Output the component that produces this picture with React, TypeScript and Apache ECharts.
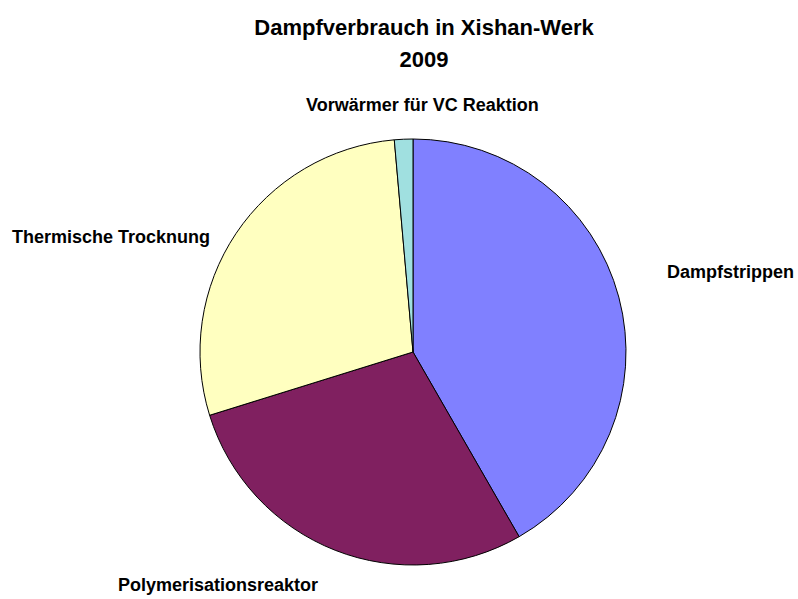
import React, { useEffect, useRef } from "react";
import * as echarts from "echarts";

const categories = ["Dampfstrippen", "Polymerisationsreaktor", "Thermische Trocknung", "Vorwärmer für VC Reaktion"];
const values = [41.7, 28.5, 28.4, 1.4];
const colors = ["#8080FF", "#802060", "#FFFFC0", "#A0E0E0"];
const titleLines = ["Dampfverbrauch in Xishan-Werk", "2009"];
const labelPos: [number, number][] = [
  [667, 272],
  [118, 585],
  [12, 237],
  [306, 105],
];

export default function App() {
  const ref = useRef<HTMLDivElement>(null);
  useEffect(() => {
    if (!ref.current) return;
    const chart = echarts.init(ref.current, undefined, { renderer: "svg" });
    chart.setOption({
      animation: false,
      backgroundColor: "#ffffff",
      title: {
        text: titleLines.join("\n"),
        left: 419,
        top: 6,
        textAlign: "center",
        textStyle: {
          fontFamily: "Liberation Sans, Arial, sans-serif",
          fontWeight: "bold",
          fontSize: 22,
          lineHeight: 32,
          color: "#000",
        },
      },
      series: [
        {
          type: "pie",
          center: [413, 352],
          radius: 213,
          startAngle: 90,
          clockwise: true,
          avoidLabelOverlap: false,
          data: categories.map((c, i) => ({
            name: c,
            value: values[i],
            itemStyle: { color: colors[i] },
          })),
          itemStyle: { borderColor: "#000", borderWidth: 1 },
          label: {
            show: true,
            position: "outside",
            formatter: "{b}",
            fontFamily: "Liberation Sans, Arial, sans-serif",
            fontWeight: "bold",
            fontSize: 18,
            color: "#000",
          },
          labelLine: { show: false },
          labelLayout: (params: any) => {
            const p = labelPos[params.dataIndex];
            return { x: p[0], y: p[1], align: "left", verticalAlign: "middle", hideOverlap: false };
          },
          emphasis: { disabled: true },
        },
      ],
    });
    return () => chart.dispose();
  }, []);
  return (
    <div
      ref={ref}
      style={{ position: "absolute", left: 0, top: 0, width: 798, height: 599 }}
    />
  );
}
